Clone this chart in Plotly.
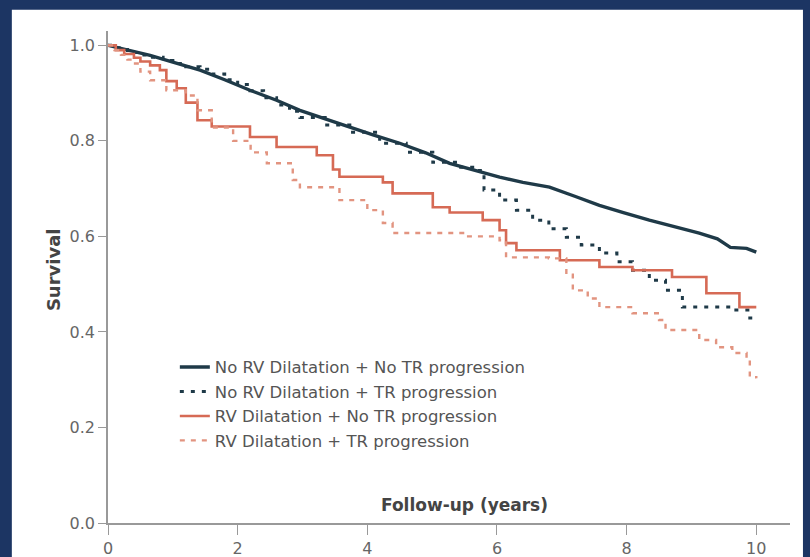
import plotly.graph_objects as go

# Kaplan-Meier curves (years, survival)
t_norv_notr = [0, 0.3, 0.65, 1.0, 1.42, 1.8, 2.19, 2.6, 2.96, 3.35, 3.73, 4.1, 4.5, 4.9, 5.27, 5.65,
               6.04, 6.4, 6.81, 7.2, 7.58, 7.95, 8.35, 8.75, 9.12, 9.4, 9.6, 9.85, 10.0]
s_norv_notr = [1.0, 0.99, 0.979, 0.965, 0.948, 0.928, 0.906, 0.885, 0.864, 0.846, 0.828, 0.812, 0.795, 0.775,
               0.753, 0.738, 0.724, 0.713, 0.703, 0.684, 0.665, 0.65, 0.634, 0.62, 0.607, 0.595, 0.577, 0.575, 0.567]

t_norv_tr = [0, 0.15, 0.3, 0.5, 0.65, 0.85, 1.0, 1.2, 1.42, 1.6, 1.8, 2.0, 2.19, 2.4, 2.6, 2.8, 2.96, 3.35,
             3.73, 4.19, 4.6, 5.01, 5.4, 5.7, 5.8, 6.04, 6.3, 6.55, 6.8, 7.07, 7.3, 7.58, 7.85, 8.09, 8.35,
             8.6, 8.86, 9.63, 9.9, 10.0]
s_norv_tr = [1.0, 0.995, 0.985, 0.98, 0.975, 0.968, 0.962, 0.955, 0.95, 0.94, 0.928, 0.918, 0.905, 0.89,
             0.875, 0.862, 0.849, 0.833, 0.818, 0.795, 0.776, 0.755, 0.745, 0.738, 0.697, 0.676, 0.655, 0.634,
             0.616, 0.598, 0.582, 0.565, 0.547, 0.529, 0.508, 0.487, 0.452, 0.446, 0.429, 0.425]

t_rv_notr = [0, 0.12, 0.25, 0.4, 0.5, 0.65, 0.8, 0.9, 1.06, 1.2, 1.38, 1.6, 2.19, 2.6, 3.22, 3.47, 3.57,
             4.24, 4.39, 5.01, 5.27, 5.78, 6.04, 6.14, 6.3, 6.97, 7.58, 8.09, 8.7, 9.23, 9.74, 10.0]
s_rv_notr = [1.0, 0.99, 0.982, 0.974, 0.966, 0.958, 0.948, 0.925, 0.91, 0.88, 0.843, 0.83, 0.808, 0.787,
             0.77, 0.74, 0.725, 0.713, 0.69, 0.661, 0.65, 0.634, 0.613, 0.586, 0.571, 0.55, 0.536, 0.529,
             0.515, 0.481, 0.452, 0.452]

t_rv_tr = [0, 0.1, 0.2, 0.3, 0.39, 0.5, 0.65, 0.9, 1.2, 1.38, 1.6, 1.93, 2.2, 2.45, 2.85, 2.96, 3.57, 4.0,
           4.24, 4.39, 5.53, 6.04, 6.14, 6.8, 7.07, 7.17, 7.4, 7.58, 8.09, 8.5, 8.6, 9.12, 9.38, 9.63, 9.85,
           9.9, 10.0]
s_rv_tr = [1.0, 0.99, 0.98, 0.97, 0.962, 0.945, 0.927, 0.906, 0.895, 0.864, 0.828, 0.8, 0.776, 0.753,
           0.718, 0.703, 0.676, 0.655, 0.628, 0.607, 0.6, 0.592, 0.556, 0.554, 0.52, 0.487, 0.47, 0.452,
           0.439, 0.425, 0.404, 0.383, 0.368, 0.356, 0.341, 0.305, 0.303]

names = ["No RV Dilatation + No TR progression",
         "No RV Dilatation + TR progression",
         "RV Dilatation + No TR progression",
         "RV Dilatation + TR progression"]

navy = "#1f3a48"
red = "#d66a55"
red_light = "#e29480"

fig = go.Figure()
fig.add_trace(go.Scatter(x=t_norv_notr, y=s_norv_notr, mode="lines", name=names[0],
                         line=dict(color=navy, width=3.4, shape="linear")))
fig.add_trace(go.Scatter(x=t_norv_tr, y=s_norv_tr, mode="lines", name=names[1],
                         line=dict(color=navy, width=3, dash="4px,7px", shape="hv")))
fig.add_trace(go.Scatter(x=t_rv_notr, y=s_rv_notr, mode="lines", name=names[2],
                         line=dict(color=red, width=2.6, shape="hv")))
fig.add_trace(go.Scatter(x=t_rv_tr, y=s_rv_tr, mode="lines", name=names[3],
                         line=dict(color=red_light, width=2.4, dash="5px,6px", shape="hv")))

# white card inside the navy frame
fig.add_shape(type="rect", xref="paper", yref="paper", layer="below",
              x0=-0.141, x1=1.019, y0=-0.2, y1=1.043,
              fillcolor="white", line=dict(width=0))

fig.add_annotation(text="<b>Follow-up (years)</b>", x=5.5, y=0.038, xref="x", yref="y",
                   showarrow=False, font=dict(size=17, color="#444"))
fig.add_annotation(text="<b>Survival</b>", x=0, y=0.515, xref="paper", yref="paper",
                   xshift=-67, textangle=-90, showarrow=False, font=dict(size=18, color="#444"))

fig.update_layout(
    width=810, height=557,
    margin=dict(l=108, r=20, t=31, b=34),
    paper_bgcolor="#1c3563",
    plot_bgcolor="white",
    font=dict(family="DejaVu Sans", size=15, color="#555"),
    showlegend=True,
    legend=dict(x=0.098, y=0.352, xanchor="left", yanchor="top", bgcolor="rgba(0,0,0,0)",
                font=dict(size=16.5, color="#555"), tracegroupgap=0, itemwidth=30),
    xaxis=dict(range=[0, 10.52], tickvals=[0, 2, 4, 6, 8, 10], ticks="outside", ticklen=10,
               tickcolor="#999", showline=True, linecolor="#999", linewidth=1.5, automargin=False,
               showgrid=False, zeroline=False, tickfont=dict(size=16, color="#666")),
    yaxis=dict(range=[0, 1.03], tickvals=[0, 0.2, 0.4, 0.6, 0.8, 1.0], tickformat=".1f",
               ticks="outside", ticklen=8, tickcolor="#999", showline=True, linecolor="#999",
               linewidth=1.5, showgrid=False, zeroline=False, automargin=False,
               tickfont=dict(size=16, color="#666")),
)

fig.write_html("out.html", config={"displayModeBar": False},
               post_script="document.body.style.margin='0';")
